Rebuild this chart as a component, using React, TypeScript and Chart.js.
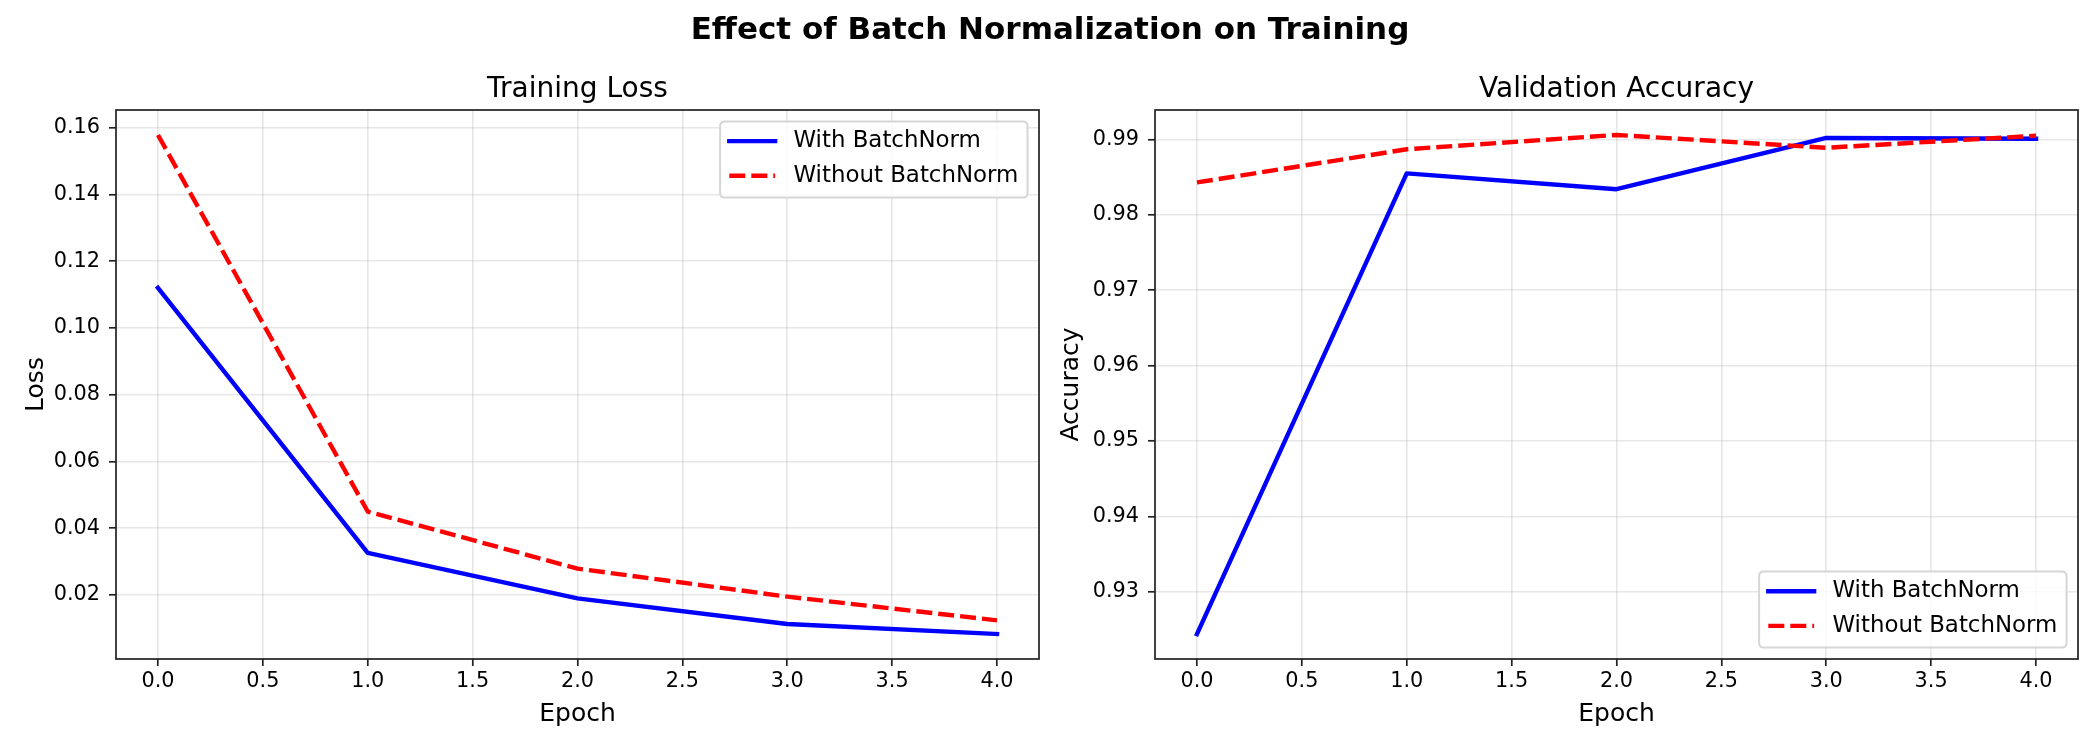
import React, { useEffect, useRef } from "react";
import { Chart, registerables } from "chart.js";

Chart.register(...registerables);

// ---- data ----
const epochs = [0, 1, 2, 3, 4];
const lossWithBN = [0.112, 0.0326, 0.019, 0.0113, 0.0083];
const lossWithoutBN = [0.1578, 0.045, 0.0279, 0.0195, 0.0124];
const accWithBN = [0.9244, 0.9855, 0.9834, 0.9902, 0.9901];
const accWithoutBN = [0.9843, 0.9887, 0.9906, 0.9889, 0.9905];
const lossTicks = [0.02, 0.04, 0.06, 0.08, 0.1, 0.12, 0.14, 0.16];
const accTicks = [0.93, 0.94, 0.95, 0.96, 0.97, 0.98, 0.99];
const epochTicks = [0, 0.5, 1, 1.5, 2, 2.5, 3, 3.5, 4];
const seriesLabels = ["With BatchNorm", "Without BatchNorm"];
const suptitle = "Effect of Batch Normalization on Training";
const lossTitle = "Training Loss";
const accTitle = "Validation Accuracy";

const FONT = "'DejaVu Sans', sans-serif";
const BLUE = "#0000ff";
const RED = "#ff0000";

function autoRange(arrs: number[][]): [number, number] {
  const all = arrs.flat();
  const lo = Math.min(...all);
  const hi = Math.max(...all);
  const m = (hi - lo) * 0.05;
  return [lo - m, hi + m];
}

const decorPlugin = {
  id: "decor",
  afterDraw(chart: any, _args: any, o: any) {
    const { ctx, chartArea: a } = chart;
    ctx.save();
    // frame (spines)
    ctx.strokeStyle = "#222";
    ctx.lineWidth = 1.7;
    ctx.setLineDash([]);
    ctx.strokeRect(a.left, a.top, a.right - a.left, a.bottom - a.top);

    // subplot title
    ctx.fillStyle = "#000";
    ctx.font = `28px ${FONT}`;
    ctx.textAlign = "center";
    ctx.textBaseline = "alphabetic";
    ctx.fillText(o.title, (a.left + a.right) / 2, a.top - 13);

    if (o.suptitle) {
      ctx.font = `bold 31px ${FONT}`;
      ctx.fillText(o.suptitle, 1050, 39);
    }

    // legend
    const fs = 22.9;
    const pad = 0.4 * fs;
    const hl = 2 * fs;
    const htp = 0.8 * fs;
    const lsp = 0.5 * fs;
    const bap = 0.5 * fs;
    const rowH = fs * 1.01;
    ctx.font = `${fs}px ${FONT}`;
    const labels: string[] = o.labels;
    const tw = Math.max(...labels.map((l) => ctx.measureText(l).width));
    const w = 2 * pad + hl + htp + tw;
    const h = 2 * pad + labels.length * rowH + (labels.length - 1) * lsp;
    const right = a.right - bap;
    const top = o.legendPos === "upper" ? a.top + bap : a.bottom - bap - h;
    const left = right - w;
    const r = 0.2 * fs;
    ctx.beginPath();
    ctx.moveTo(left + r, top);
    ctx.lineTo(right - r, top);
    ctx.quadraticCurveTo(right, top, right, top + r);
    ctx.lineTo(right, top + h - r);
    ctx.quadraticCurveTo(right, top + h, right - r, top + h);
    ctx.lineTo(left + r, top + h);
    ctx.quadraticCurveTo(left, top + h, left, top + h - r);
    ctx.lineTo(left, top + r);
    ctx.quadraticCurveTo(left, top, left + r, top);
    ctx.closePath();
    ctx.fillStyle = "rgba(255,255,255,0.8)";
    ctx.fill();
    ctx.strokeStyle = "#d6d6d6";
    ctx.lineWidth = 2;
    ctx.stroke();

    const dsets = chart.data.datasets;
    labels.forEach((lab, i) => {
      const ds = dsets[i];
      const y = top + pad + rowH / 2 - 1 + i * (rowH + lsp);
      ctx.beginPath();
      ctx.strokeStyle = ds.borderColor;
      ctx.lineWidth = ds.borderWidth;
      ctx.setLineDash(ds.borderDash || []);
      ctx.lineCap = ds.borderCapStyle || "butt";
      ctx.moveTo(left + pad, y);
      ctx.lineTo(left + pad + hl, y);
      ctx.stroke();
      ctx.setLineDash([]);
      ctx.fillStyle = "#000";
      ctx.textAlign = "left";
      ctx.textBaseline = "middle";
      ctx.fillText(lab, left + pad + hl + htp, y);
    });
    ctx.restore();
  },
};

function makeConfig(p: {
  a: number[];
  b: number[];
  yTicks: number[];
  yTitle: string;
  title: string;
  padLeft: number;
  padRight: number;
  yWidth: number;
  yTitlePad: number;
  legendPos: string;
  sup?: string;
}): any {
  const [ymin, ymax] = autoRange([p.a, p.b]);
  const tickFont = { family: FONT, size: 20.8 };
  const titleFont = { family: FONT, size: 25 };
  return {
    type: "line",
    data: {
      datasets: [
        {
          label: seriesLabels[0],
          data: epochs.map((e, i) => ({ x: e, y: p.a[i] })),
          borderColor: BLUE,
          borderWidth: 4.4,
          borderCapStyle: "square",
          borderJoinStyle: "round",
          pointRadius: 0,
          fill: false,
          tension: 0,
          order: 2,
        },
        {
          label: seriesLabels[1],
          data: epochs.map((e, i) => ({ x: e, y: p.b[i] })),
          borderColor: RED,
          borderWidth: 4.4,
          borderDash: [16, 6],
          borderCapStyle: "butt",
          borderJoinStyle: "round",
          pointRadius: 0,
          fill: false,
          tension: 0,
          order: 1,
        },
      ],
    },
    options: {
      animation: false,
      responsive: false,
      devicePixelRatio: 1,
      layout: { padding: { left: p.padLeft, right: p.padRight, top: 110, bottom: 0 } },
      plugins: {
        legend: { display: false },
        tooltip: { enabled: false },
        decor: { title: p.title, suptitle: p.sup, labels: seriesLabels, legendPos: p.legendPos },
      },
      scales: {
        x: {
          type: "linear",
          min: -0.2,
          max: 4.2,
          afterBuildTicks: (s: any) => {
            s.ticks = epochTicks.map((v) => ({ value: v }));
          },
          afterFit: (s: any) => {
            s.height = 91;
          },
          ticks: {
            callback: (v: any) => Number(v).toFixed(1),
            font: tickFont,
            color: "#000",
            padding: 3,
            maxRotation: 0,
            autoSkip: false,
          },
          grid: {
            color: "rgba(176,176,176,0.3)",
            lineWidth: 1.6,
            tickColor: "#222",
            tickLength: 7,
            tickWidth: 1.7,
            drawTicks: true,
          },
          border: { display: false },
          title: { display: true, text: "Epoch", font: titleFont, color: "#000", padding: { top: 0, bottom: 21 } },
        },
        y: {
          type: "linear",
          min: ymin,
          max: ymax,
          afterBuildTicks: (s: any) => {
            s.ticks = p.yTicks.map((v) => ({ value: v }));
          },
          afterFit: (s: any) => {
            s.width = p.yWidth;
          },
          ticks: {
            callback: (v: any) => Number(v).toFixed(2),
            font: tickFont,
            color: "#000",
            padding: 9,
            autoSkip: false,
          },
          grid: {
            color: "rgba(176,176,176,0.3)",
            lineWidth: 1.6,
            tickColor: "#222",
            tickLength: 7,
            tickWidth: 1.7,
            drawTicks: true,
          },
          border: { display: false },
          title: { display: true, text: p.yTitle, font: titleFont, color: "#000", padding: { top: p.yTitlePad, bottom: 0 } },
        },
      },
    },
    plugins: [decorPlugin],
  };
}

function ChartCanvas({ config }: { config: any }) {
  const ref = useRef<HTMLCanvasElement>(null);
  useEffect(() => {
    const chart = new Chart(ref.current as HTMLCanvasElement, config);
    return () => chart.destroy();
  }, []);
  return (
    <canvas
      ref={ref}
      width={2100}
      height={750}
      style={{ position: "absolute", left: 0, top: 0, width: 2100, height: 750 }}
    />
  );
}

export default function App() {
  const lossConfig = makeConfig({
    a: lossWithBN,
    b: lossWithoutBN,
    yTicks: lossTicks,
    yTitle: "Loss",
    title: lossTitle,
    padLeft: 0,
    padRight: 2100 - 1039,
    yWidth: 116,
    yTitlePad: 21,
    legendPos: "upper",
    sup: suptitle,
  });
  const accConfig = makeConfig({
    a: accWithBN,
    b: accWithoutBN,
    yTicks: accTicks,
    yTitle: "Accuracy",
    title: accTitle,
    padLeft: 1050,
    padRight: 22,
    yWidth: 105,
    yTitlePad: 6.5,
    legendPos: "lower",
  });
  return (
    <div
      style={{
        position: "absolute",
        left: 0,
        top: 0,
        width: 2100,
        height: 750,
        background: "#fff",
        overflow: "hidden",
      }}
    >
      <ChartCanvas config={lossConfig} />
      <ChartCanvas config={accConfig} />
    </div>
  );
}
